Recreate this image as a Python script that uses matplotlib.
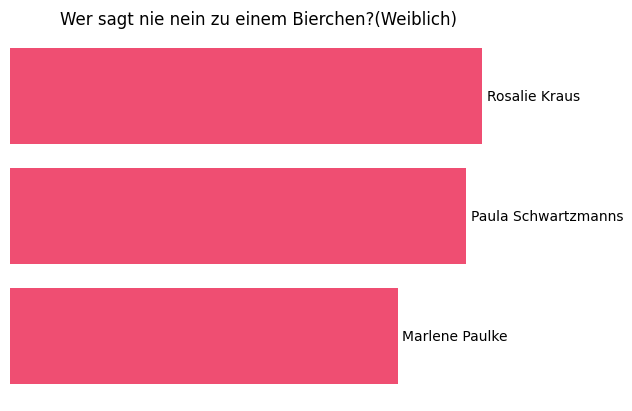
import matplotlib
matplotlib.use("Agg")
import matplotlib.pyplot as plt

names = ["Rosalie Kraus", "Paula Schwartzmanns", "Marlene Paulke"]
values = [118, 114, 97]
title = "Wer sagt nie nein zu einem Bierchen?(Weiblich)"
color = "#EF4E72"

fig = plt.figure(figsize=(6.32, 4.11), dpi=100)
ax = fig.add_axes([10/632, 15/411, 496/632, 360/411])
y = list(range(len(names)))
ax.barh(y, values, height=0.8, color=color)
ax.set_ylim(len(names) - 0.5, -0.5)
ax.set_xlim(0, max(values) * 1.05)
for yi, v, n in zip(y, values, names):
    ax.annotate(n, (v, yi), xytext=(3, -0.7), textcoords="offset points",
                va="center", ha="left", fontsize=10, annotation_clip=False)
ax.set_title(title, fontsize=12, pad=8)
ax.axis("off")
fig.savefig("out.png", dpi=100)
